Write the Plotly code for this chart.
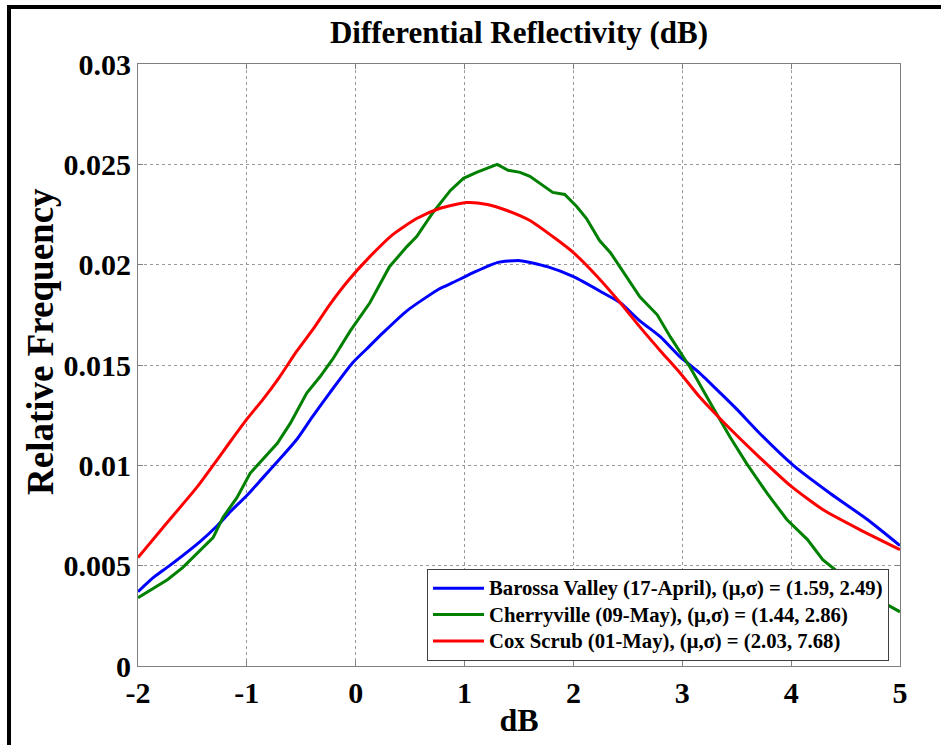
import plotly.graph_objects as go

# ---- data ----
barossa_x = [-2.0, -1.86, -1.71, -1.43, -1.27, -1.15, -1.0, -0.85, -0.70, -0.54, -0.40, -0.24, -0.03,
             0.10, 0.25, 0.47, 0.77, 0.89, 1.08, 1.30, 1.51, 1.76, 2.0, 2.27, 2.43, 2.61, 2.80,
             2.98, 3.16, 3.35, 3.50, 3.71, 4.02, 4.36, 4.70, 5.0]
barossa_y = [0.0037, 0.0044, 0.0050, 0.0062, 0.0070, 0.0077, 0.0085, 0.0094, 0.0103, 0.0113, 0.0124, 0.0136, 0.0151,
             0.0158, 0.0166, 0.0177, 0.0188, 0.0191, 0.0196, 0.0201, 0.0202, 0.0199, 0.0194, 0.0186, 0.0181, 0.0172, 0.0164,
             0.0154, 0.0146, 0.0136, 0.0128, 0.0116, 0.0100, 0.0086, 0.0073, 0.0060]

cherry_x = [-2.0, -1.73, -1.59, -1.40, -1.31, -1.22, -1.09, -0.97, -0.85, -0.72, -0.60, -0.45, -0.33, -0.21,
            -0.05, 0.13, 0.31, 0.47, 0.56, 0.71, 0.87, 0.99, 1.11, 1.30, 1.40, 1.51, 1.60, 1.81, 1.92,
            2.03, 2.12, 2.24, 2.34, 2.46, 2.61, 2.77, 2.89, 3.01, 3.07, 3.28, 3.44, 3.59, 3.78, 3.96,
            4.15, 4.29, 4.45, 4.70, 5.0]
cherry_y = [0.0034, 0.0043, 0.0049, 0.0059, 0.0064, 0.0074, 0.0084, 0.0096, 0.0103, 0.0111, 0.0121, 0.0136, 0.0144, 0.0153,
            0.0167, 0.0181, 0.0199, 0.0209, 0.0214, 0.0226, 0.0237, 0.0243, 0.0246, 0.0250, 0.0247, 0.0246, 0.0244, 0.0236, 0.0235,
            0.0229, 0.0223, 0.0212, 0.0206, 0.0196, 0.0184, 0.0175, 0.0164, 0.0154, 0.0149, 0.0129, 0.0114, 0.0101, 0.0086, 0.0073,
            0.0063, 0.0053, 0.0046, 0.0036, 0.0027]

cox_x = [-2.0, -1.77, -1.46, -1.31, -1.15, -1.0, -0.85, -0.70, -0.54, -0.39, -0.24, -0.07, 0.13, 0.34, 0.56,
         0.77, 1.02, 1.21, 1.39, 1.60, 1.81, 2.0, 2.22, 2.43, 2.61, 2.80, 2.98, 3.16, 3.37, 3.69, 3.99,
         4.29, 4.63, 5.0]
cox_y = [0.0054, 0.0069, 0.0089, 0.0100, 0.0112, 0.0123, 0.0133, 0.0144, 0.0157, 0.0168, 0.0180, 0.0192, 0.0204, 0.0215, 0.0223,
         0.0228, 0.0231, 0.0230, 0.0227, 0.0222, 0.0214, 0.0206, 0.0194, 0.0181, 0.0169, 0.0157, 0.0146, 0.0134, 0.0122, 0.0105, 0.0090,
         0.0078, 0.0068, 0.0058]

series_names = [
    "Barossa Valley (17-April), (\u03bc,\u03c3) = (1.59, 2.49)",
    "Cherryville (09-May), (\u03bc,\u03c3) = (1.44, 2.86)",
    "Cox Scrub (01-May), (\u03bc,\u03c3) = (2.03, 7.68)",
]
series_colors = ["#0000ff", "#008000", "#ff0000"]
series_shapes = ["spline", "linear", "spline"]

x_ticks = [-2, -1, 0, 1, 2, 3, 4, 5]
x_ticklabels = ["-2", "-1", "0", "1", "2", "3", "4", "5"]
y_ticks = [0, 0.005, 0.01, 0.015, 0.02, 0.025, 0.03]
y_ticklabels = ["0", "0.005", "0.01", "0.015", "0.02", "0.025", "0.03"]

FONT = "Liberation Serif"

fig = go.Figure()
for i, (xs, ys) in enumerate([(barossa_x, barossa_y), (cherry_x, cherry_y), (cox_x, cox_y)]):
    line = dict(color=series_colors[i], width=3, shape=series_shapes[i])
    if series_shapes[i] == "spline":
        line["smoothing"] = 0.6
    fig.add_trace(go.Scatter(x=xs, y=ys, mode="lines",
                             name='<span style="font-size:20.7px">%s</span>' % series_names[i],
                             line=line))

W, H = 941, 745
L, R, T, B = 138, 41, 64, 79
pw, ph = W - L - R, H - T - B

def px2paper_x(p):
    return (p - L) / pw

def px2paper_y(p):
    return (H - B - p) / ph

axis_common = dict(
    showline=True, linecolor="#7f7f7f", linewidth=1, mirror="ticks",
    ticks="inside", ticklen=5, tickcolor="#7f7f7f", tickwidth=1,
    showgrid=True, gridcolor="#9a9a9a", griddash="dot", gridwidth=1,
    zeroline=False,
    tickfont=dict(family=FONT, size=30, color="black", weight="bold"),
)

fig.update_layout(
    width=W, height=H,
    margin=dict(l=L, r=R, t=T, b=B, pad=0),
    paper_bgcolor="white", plot_bgcolor="white",
    title=dict(text="<b>Differential Reflectivity (dB)</b>",
               font=dict(family=FONT, size=31, color="black"),
               x=519 / W, xanchor="center",
               y=1 - 32 / H, yanchor="middle"),
    xaxis=dict(range=[-2, 5], tickvals=x_ticks, ticktext=x_ticklabels,
               title=dict(text="<b>dB</b>", font=dict(family=FONT, size=32, color="black"), standoff=0),
               **axis_common),
    yaxis=dict(range=[0, 0.03], tickvals=y_ticks, ticktext=y_ticklabels, **axis_common),
    annotations=[dict(text="<b>Relative Frequency</b>", xref="paper", yref="paper",
                      x=px2paper_x(40), y=px2paper_y(341), xanchor="center", yanchor="middle",
                      textangle=-90, showarrow=False,
                      font=dict(family=FONT, size=37, color="black"))],
    showlegend=True,
    legend=dict(x=px2paper_x(427), y=px2paper_y(661), xanchor="left", yanchor="bottom",
                bgcolor="white", bordercolor="#404040", borderwidth=1,
                font=dict(family=FONT, size=18, color="black", weight="bold"),
                itemwidth=51),
    shapes=[dict(type="rect", xref="paper", yref="paper",
                 x0=px2paper_x(9), x1=px2paper_x(960),
                 y0=px2paper_y(770), y1=px2paper_y(7),
                 line=dict(color="black", width=4), fillcolor="rgba(0,0,0,0)", layer="above")],
)

fig.write_html("out.html")
